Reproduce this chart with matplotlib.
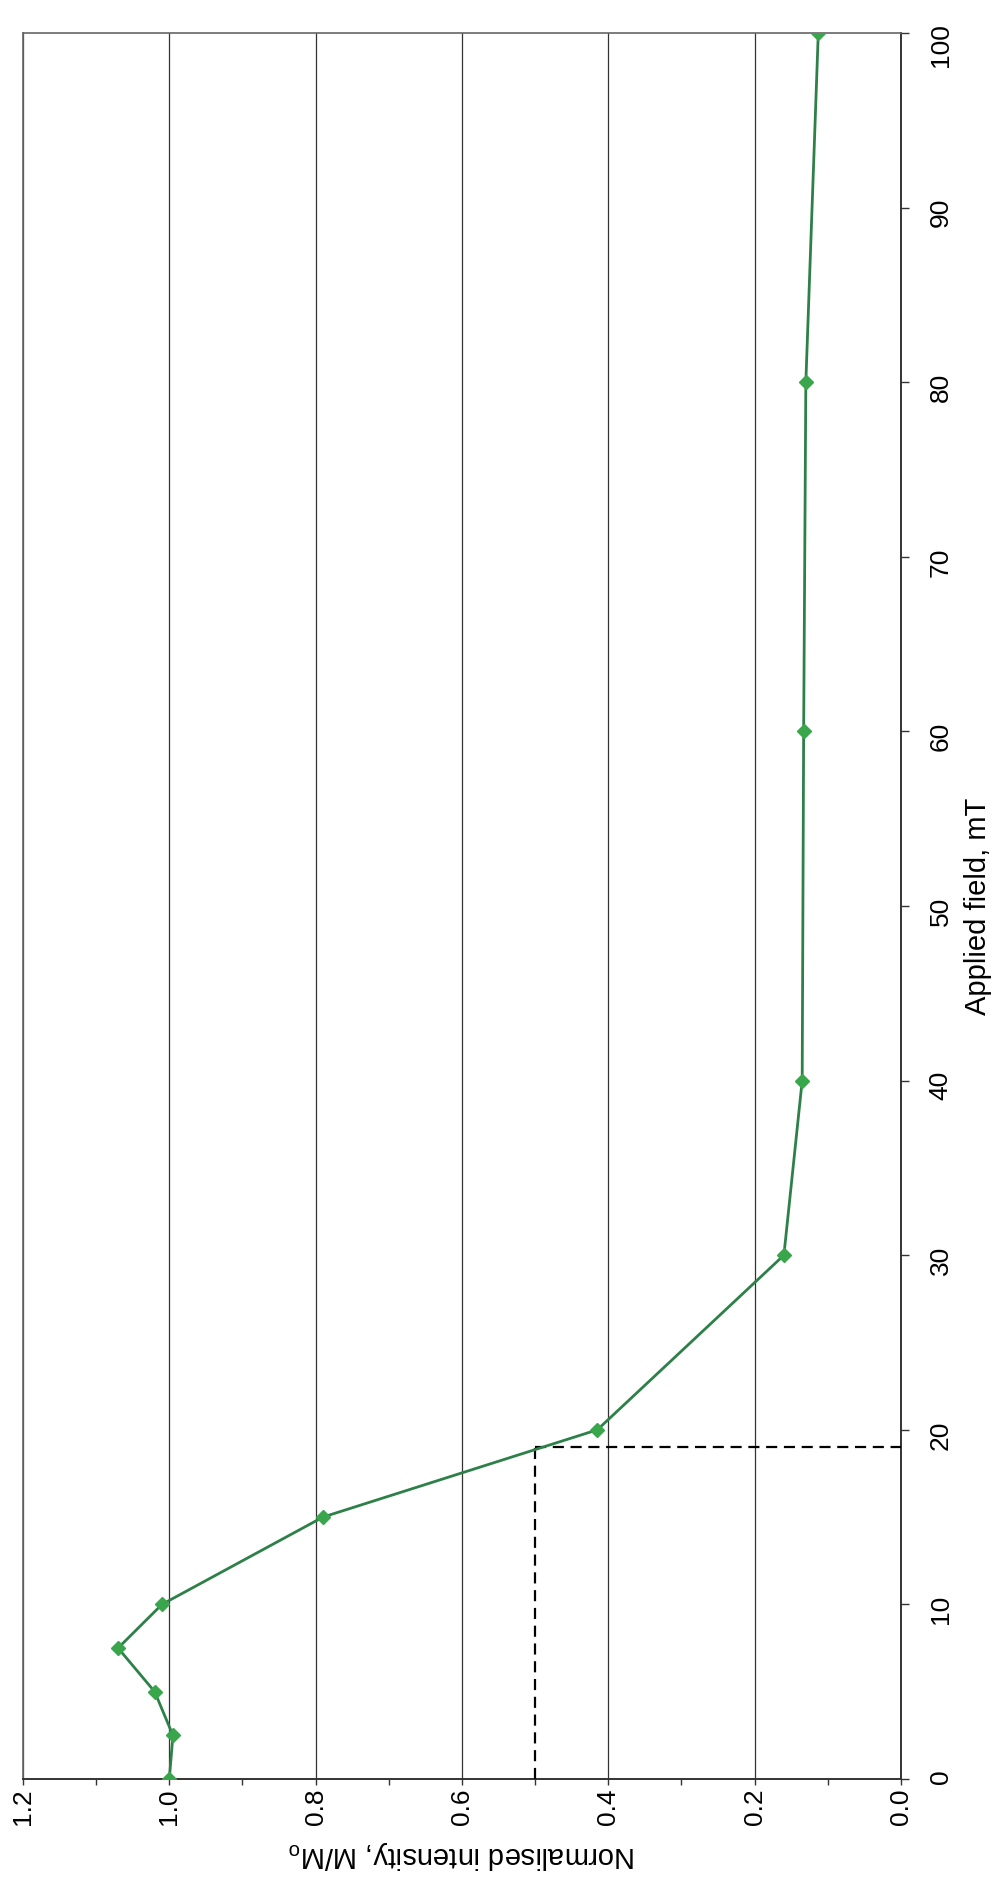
import numpy as np
import matplotlib
matplotlib.use("Agg")
import matplotlib.pyplot as plt
from matplotlib.ticker import MultipleLocator, FormatStrFormatter

# AF demagnetisation data (chart is drawn rotated 90 degrees, as in the scan)
field_mT = [0, 2.5, 5, 7.5, 10, 15, 20, 30, 40, 60, 80, 100]
intensity = [1.0, 0.995, 1.02, 1.07, 1.01, 0.79, 0.415, 0.16, 0.135, 0.133, 0.13, 0.113]

# median destructive field marker
half_intensity = 0.5
half_field = 19.0

plt.rcParams['font.family'] = ['Liberation Sans', 'DejaVu Sans']

fig = plt.figure(figsize=(10.07, 18.98), dpi=100)
ax = fig.add_axes([0.0228, 0.0627, 0.8719, 0.9199])

# horizontal axis: intensity (reversed), vertical axis: field
ax.plot(intensity, field_mT, color='#2e8049', lw=2.0, marker='D', markersize=7.5,
        markerfacecolor='#3aa64c', markeredgecolor='#3aa64c', zorder=4)

# dashed guide lines at M/Mo = 0.5
ax.plot([half_intensity, half_intensity], [0, half_field], color='black',
        lw=1.6, ls=(0, (5, 3)), zorder=3)
ax.plot([half_intensity, 0], [half_field, half_field], color='black',
        lw=1.6, ls=(0, (5, 3)), zorder=3)

ax.set_xlim(1.2, 0.0)
ax.set_ylim(0, 100)

ax.xaxis.set_major_locator(MultipleLocator(0.2))
ax.xaxis.set_minor_locator(MultipleLocator(0.1))
ax.xaxis.set_major_formatter(FormatStrFormatter('%.1f'))
ax.yaxis.set_major_locator(MultipleLocator(10))

ax.yaxis.tick_right()
ax.yaxis.set_label_position('right')

ax.tick_params(axis='x', which='both', direction='out', length=4, width=1,
               color='#333333', labelsize=19, labelrotation=90, pad=3)
ax.tick_params(axis='y', which='major', direction='out', length=6, width=1,
               color='#333333', labelsize=19, labelrotation=90, pad=14)

ax.grid(axis='x', which='major', color='#333333', lw=0.9)
ax.set_axisbelow(True)

for side in ['top', 'left']:
    ax.spines[side].set_color('#666666')
    ax.spines[side].set_linewidth(1.2)
for side in ['bottom', 'right']:
    ax.spines[side].set_color('#333333')
    ax.spines[side].set_linewidth(1.4)

ax.set_xlabel('Normalised intensity, M/M$\\mathregular{_o}$', fontsize=21,
              rotation=180, labelpad=10)
ax.set_ylabel('Applied field, mT', fontsize=21, rotation=90, labelpad=8)

fig.savefig('out.png', dpi=100)
